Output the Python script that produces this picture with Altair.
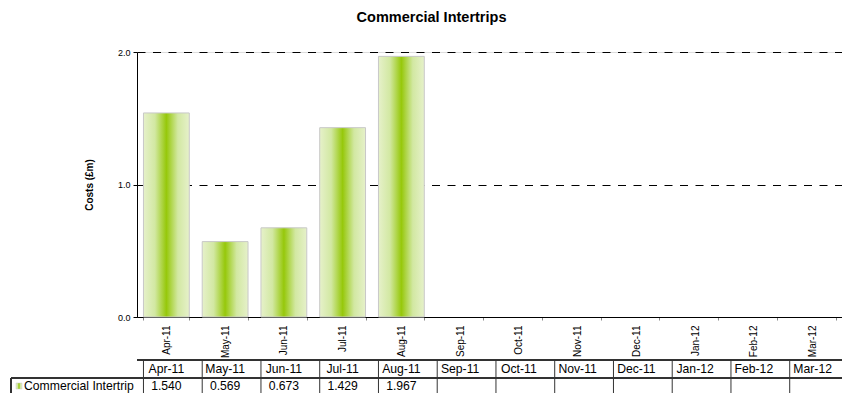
import altair as alt
import pandas as pd

months = ["Apr-11", "May-11", "Jun-11", "Jul-11", "Aug-11", "Sep-11",
          "Oct-11", "Nov-11", "Dec-11", "Jan-12", "Feb-12", "Mar-12"]
values = [1.540, 0.569, 0.673, 1.429, 1.967, None, None, None, None, None, None, None]
series_name = "Commercial Intertrip"
y_ticks = [0.0, 1.0, 2.0]

df = pd.DataFrame({"month": months, "value": values})

FONT = "Liberation Sans"
W, H = 705, 265
TOP = 44
TBL_FS = 12.2

grad = alt.Gradient(
    gradient="linear",
    stops=[
        alt.GradientStop(color="#e6f1ca", offset=0),
        alt.GradientStop(color="#d2e8a2", offset=0.25),
        alt.GradientStop(color="#96c80a", offset=0.5),
        alt.GradientStop(color="#d2e8a2", offset=0.75),
        alt.GradientStop(color="#e6f1ca", offset=1),
    ],
    x1=0, x2=1, y1=0, y2=0,
)

xscale = alt.Scale(domain=months, paddingInner=0.22, paddingOuter=0.11)

x_enc = alt.X(
    "month:N",
    sort=months,
    scale=xscale,
    axis=alt.Axis(
        title=None,
        labelAngle=-90,
        labelFont=FONT,
        labelFontSize=10,
        labelColor="#000000",
        labelPadding=5,
        tickBand="extent",
        tickSize=3,
        tickColor="#888888",
        domainColor="#000000",
        domainWidth=1,
        grid=False,
    ),
)

y_enc = alt.Y(
    "value:Q",
    scale=alt.Scale(domain=[0, 2], nice=False),
    axis=alt.Axis(
        title="Costs (£m)",
        titleFont=FONT,
        titleFontSize=10,
        titleFontWeight="bold",
        titleColor="#000000",
        titleX=-48,
        titleY=H / 2,
        titleAngle=-90,
        titleAlign="center",
        titleBaseline="middle",
        values=y_ticks,
        format=".1f",
        labelFont=FONT,
        labelFontSize=9,
        labelColor="#000000",
        labelPadding=3,
        tickSize=4,
        tickColor="#000000",
        domainColor="#000000",
        grid=True,
        gridColor="#000000",
        gridDash=[8, 7.5],
        gridWidth=1,
    ),
)

bars = alt.Chart(df).mark_bar(
    fill=grad, stroke="#c8c8c8", strokeWidth=1
).encode(x=x_enc, y=y_enc)

# data table below the chart (page y -> plot y: minus 52)
line_col = "#333333"
tbl_top = 360 - 52
tbl_div = 378 - 52
tbl_bot = 400 - 52
hdr_y = 369 - 52
val_y = 386 - 52
legend_left = -126

hdr_line = alt.Chart(df).mark_rule(color=line_col, strokeWidth=1).encode(
    x=alt.value(0), x2=alt.value(W), y=alt.value(tbl_top)
)
div_line = alt.Chart(df).mark_rule(color=line_col, strokeWidth=1).encode(
    x=alt.value(legend_left), x2=alt.value(W), y=alt.value(tbl_div)
)
legend_vline = alt.Chart(df).mark_rule(color=line_col, strokeWidth=1).encode(
    x=alt.value(legend_left), y=alt.value(tbl_div), y2=alt.value(tbl_bot)
)
col_lines = alt.Chart(df).mark_rule(color=line_col, strokeWidth=1).encode(
    x=alt.X("month:N", sort=months, scale=xscale, bandPosition=0),
    y=alt.value(tbl_top), y2=alt.value(tbl_bot),
)
hdr_text = alt.Chart(df).mark_text(
    font=FONT, fontSize=TBL_FS, color="#000000", baseline="middle"
).encode(
    x=alt.X("month:N", sort=months, scale=xscale),
    y=alt.value(hdr_y),
    text="month:N",
)
val_text = alt.Chart(df).transform_filter("datum.value != null").mark_text(
    font=FONT, fontSize=TBL_FS, color="#000000", baseline="middle"
).encode(
    x=alt.X("month:N", sort=months, scale=xscale),
    y=alt.value(val_y),
    text=alt.Text("value:Q", format=".3f"),
)
leg_df = pd.DataFrame({"name": [series_name]})
leg_text = alt.Chart(leg_df).mark_text(
    font=FONT, fontSize=TBL_FS, color="#000000", align="left", baseline="middle"
).encode(x=alt.value(-113), y=alt.value(val_y), text="name:N")
leg_sym = alt.Chart(leg_df).mark_square(
    fill=grad, stroke="#c8c8c8", strokeWidth=0.5, opacity=1, size=36
).encode(x=alt.value(-118), y=alt.value(val_y))

chart = alt.layer(
    bars, hdr_line, div_line, legend_vline, col_lines, hdr_text, val_text,
    leg_text, leg_sym,
).properties(
    width=W,
    height=H,
    title=alt.TitleParams(
        "Commercial Intertrips",
        font=FONT,
        fontSize=14.5,
        fontWeight="bold",
        color="#000000",
        anchor="middle",
        frame="group",
        dx=-58,
        offset=23,
    ),
    autosize=alt.AutoSizeParams(type="none"),
    padding={"left": 129, "top": TOP, "right": 0, "bottom": 385 - TOP - H},
).configure_view(stroke=None).configure(background="#ffffff")

chart.save("out.html", embed_options={"renderer": "svg", "actions": False})
